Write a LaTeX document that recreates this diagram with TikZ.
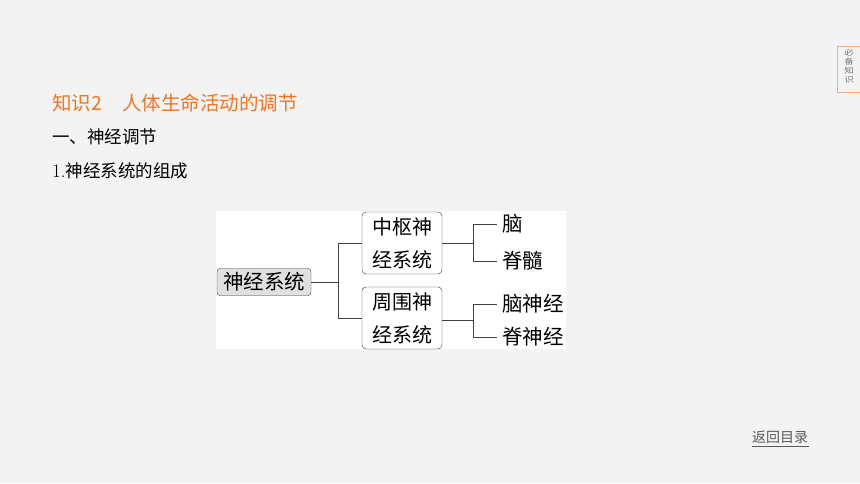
\documentclass[tikz,border=0pt]{standalone}
\usepackage{fontspec}
\usepackage{tikz}
\usetikzlibrary{positioning}
\newfontfamily\cjk{Noto Sans CJK SC}
\definecolor{titleorange}{RGB}{240,118,34}
\definecolor{pagegray}{RGB}{243,243,243}
\tikzstyle{root} = [rectangle, rounded corners=3pt, draw=black!80, fill=black!12, inner xsep=6pt, inner ysep=2pt, minimum height=27pt, font=\cjk\fontsize{20.5}{24}\selectfont]
\tikzstyle{part} = [rectangle, rounded corners=4pt, draw=black!80, fill=white, align=center, minimum width=80pt, minimum height=62pt, inner sep=2pt, font=\cjk\fontsize{20}{33}\selectfont]
\tikzstyle{leaf} = [anchor=west, inner xsep=5pt, font=\cjk\fontsize{20.5}{24}\selectfont]
\tikzstyle{line} = [draw=black!75, line width=1pt]
\tikzstyle{heading} = [anchor=west, inner sep=0pt]

\begin{document}
\begin{tikzpicture}[x=1pt, y=-1pt]
	\useasboundingbox [fill=pagegray] (0,0) rectangle (860,483);
	% headings
	\node (title) [heading, text=titleorange, font=\cjk\fontsize{19.5}{22}\selectfont] at (52,103) {知识2\hspace{20pt}人体生命活动的调节};
	\node (sub) [heading, font=\cjk\fontsize{17.5}{20}\selectfont] at (52,137) {一、神经调节};
	\node (item) [heading, font=\cjk\fontsize{17.5}{20}\selectfont] at (52,171) {{\rmfamily\fontsize{19}{20}\selectfont 1.}神经系统的组成};
	% diagram
	\fill [white] (216,211) rectangle (566,349);
	\node (ns) [root] at (264,282) {神经系统};
	\node (cns) [part] at (402,243) {中枢神\\经系统};
	\node (pns) [part] at (402,318) {周围神\\经系统};
	\coordinate (j1) at (338,282);
	\coordinate (j2) at (473,243);
	\coordinate (j3) at (473,320);
	\node (brain) [leaf] at (497,224) {脑};
	\node (cord) [leaf] at (497,261) {脊髓};
	\node (cranial) [leaf] at (497,304) {脑神经};
	\node (spinal) [leaf] at (497,337) {脊神经};
	\draw [line] (ns) -- (j1);
	\draw [line] (j1) |- (cns);
	\draw [line] (j1) |- (pns);
	\draw [line] (cns) -- (j2);
	\draw [line] (j2) |- (brain);
	\draw [line] (j2) |- (cord);
	\draw [line] (pns.east |- j3) -- (j3);
	\draw [line] (j3) |- (cranial);
	\draw [line] (j3) |- (spinal);
	% side tab
	\draw [titleorange!60, line width=0.8pt] (837,46) rectangle (866,92);
	\node (tab) [text=black!55, inner sep=0pt, font=\cjk\fontsize{9.5}{8.5}\selectfont] at (849,66) {\scalebox{1}[0.78]{\shortstack{必\\备\\知\\识}}};
	% back link
	\node (back) [text=black!65, font=\cjk\fontsize{14}{16}\selectfont] at (780,437) {返回目录};
	\draw [black!65, line width=0.6pt] (back.south west) ++(4,-1) -- ++(57,0);
\end{tikzpicture}
\end{document}
